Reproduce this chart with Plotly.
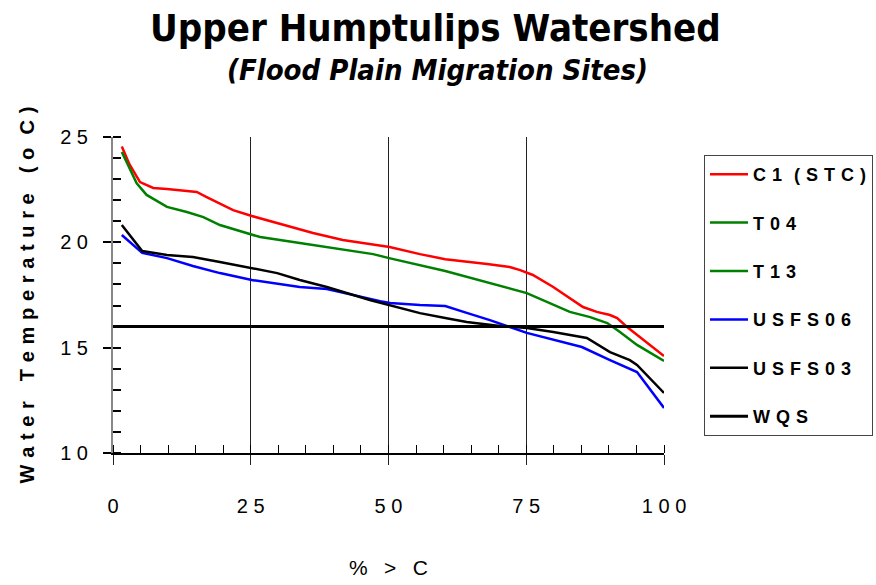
import plotly.graph_objects as go

# ---- data ----
c1_x = [1.6, 3, 4.9, 7.3, 9.8, 13.4, 15.2, 17, 21.8, 25.2, 30, 36.3, 41.7, 50.2, 55.7, 60.3,
        67.9, 72, 73.9, 76.2, 79.9, 82.9, 85.3, 87.8, 90.2, 91.5, 93.3, 100]
c1_y = [24.55, 23.7, 22.86, 22.58, 22.53, 22.43, 22.39, 22.15, 21.53, 21.25, 20.9, 20.44, 20.11,
        19.78, 19.44, 19.2, 18.97, 18.83, 18.68, 18.45, 17.88, 17.36, 16.93, 16.7, 16.55, 16.4, 15.98, 14.6]

t04_x = [1.6, 4.3, 6.1, 9.8, 13.4, 16.4, 19.4, 24.9, 26.7, 33.9, 38.8, 41.7, 47.2, 50.1, 55.7,
         60.3, 75.1, 78, 82.9, 86.6, 89.7, 92, 95.1, 100]
t04_y = [24.29, 22.8, 22.25, 21.68, 21.44, 21.2, 20.82, 20.39, 20.25, 19.97, 19.78, 19.68, 19.44,
         19.25, 18.92, 18.64, 17.59, 17.26, 16.7, 16.45, 16.17, 15.74, 15.13, 14.37]

t13_x = [None]
t13_y = [None]

usfs06_x = [1.6, 5.3, 9.8, 14.5, 19.4, 25.2, 33.9, 38.8, 48.5, 50.3, 55.7, 60.3, 64.2, 68.4,
            75.1, 85.1, 90.2, 95.1, 100]
usfs06_y = [20.35, 19.5, 19.25, 18.88, 18.54, 18.21, 17.88, 17.78, 17.21, 17.12, 17.02, 16.98,
            16.65, 16.31, 15.7, 15.03, 14.41, 13.84, 12.14]

usfs03_x = [1.6, 5.3, 9.8, 14.5, 19.4, 25.2, 29.8, 33.9, 38.8, 46.6, 50.1, 55.7, 60.3, 64.2,
            70.2, 75.1, 79.9, 86, 90.2, 93.8, 95.1, 100]
usfs03_y = [20.82, 19.59, 19.4, 19.3, 19.07, 18.78, 18.54, 18.21, 17.88, 17.26, 17.02, 16.64,
            16.41, 16.22, 16.03, 15.93, 15.74, 15.46, 14.79, 14.41, 14.18, 12.85]

wqs_x = [0, 100]
wqs_y = [16, 16]

x_ticks = [0, 25, 50, 75, 100]
x_ticktext = ["0", "2 5", "5 0", "7 5", "1 0 0"]
y_ticks = [10, 15, 20, 25]
y_ticktext = ["1 0", "1 5", "2 0", "2 5"]

SP = "\u2004"
series = [
    (SP.join("C1") + SP * 2 + SP.join("(STC)"), c1_x, c1_y, "#ff0000"),
    (SP.join("T04"), t04_x, t04_y, "#008000"),
    (SP.join("T13"), t13_x, t13_y, "#008000"),
    (SP.join("USFS06"), usfs06_x, usfs06_y, "#0000ff"),
    (SP.join("USFS03"), usfs03_x, usfs03_y, "#000000"),
    (SP.join("WQS"), wqs_x, wqs_y, "#000000"),
]

FONT = "Liberation Sans, Arial, sans-serif"
NARROW = "Liberation Sans Narrow, DejaVu Sans Condensed, Arial Narrow, sans-serif"

ytitle = SP.join("Water") + SP * 3 + SP.join("Temperature") + SP * 3 + SP.join("(o") + SP * 2 + SP.join("C)")

fig = go.Figure()
for i, (name, xs, ys, col) in enumerate(series):
    fig.add_trace(go.Scatter(
        x=xs, y=ys, name=name, mode="lines",
        line=dict(color=col, width=3 if i == len(series) - 1 else 2.5),
        legendgroup=f"g{i}",
    ))

fig.update_layout(
    width=876, height=585,
    margin=dict(l=113, r=212, t=137, b=132, autoexpand=False),
    paper_bgcolor="white", plot_bgcolor="white",
    font=dict(family=FONT, color="black", size=17),
    title=dict(text="<b>Upper Humptulips Watershed</b>", x=0.497, xanchor="center",
               y=1 - 28 / 585, yanchor="middle", yref="container",
               font=dict(family=NARROW, size=38, color="black")),
    showlegend=True,
    legend=dict(x=(704 - 113) / 551, xanchor="left", y=(453 - 155) / 316, yanchor="top",
                bordercolor="#444", borderwidth=1, bgcolor="white",
                font=dict(family=FONT, size=18, color="black", weight="bold"),
                tracegroupgap=22, itemwidth=38),
    xaxis=dict(range=[0, 100], tickvals=x_ticks, ticktext=x_ticktext,
               showgrid=True, gridcolor="#222", gridwidth=1,
               showline=True, linecolor="black", linewidth=1.5,
               ticks="outside", ticklen=10, tickcolor="#222", tickwidth=1,
               ticklabelstandoff=24, zeroline=False,
               tickfont=dict(size=20),
               minor=dict(dtick=5, ticks="inside", ticklen=8, tickcolor="black", showgrid=False),
               title=dict(text="% \u2002> \u2002C", standoff=45, font=dict(size=21))),
    yaxis=dict(range=[10, 25], tickvals=y_ticks, ticktext=y_ticktext,
               showgrid=False, showline=True, linecolor="#888", linewidth=2,
               ticks="outside", ticklen=8, tickcolor="black", tickwidth=2,
               ticklabelstandoff=11, zeroline=False,
               tickfont=dict(size=20),
               minor=dict(dtick=1, ticks="inside", ticklen=8, tickcolor="black", showgrid=False),
               title=dict(text=ytitle, standoff=20,
                          font=dict(size=20, weight="bold"))),
    annotations=[dict(text="<b><i>(Flood Plain Migration Sites)</i></b>", xref="paper", yref="paper",
                      x=(437 - 113) / 551, y=(453 - 70) / 316, xanchor="center", yanchor="middle",
                      showarrow=False, font=dict(family=NARROW, size=29, color="black"))],
)

fig.write_html("out.html")
